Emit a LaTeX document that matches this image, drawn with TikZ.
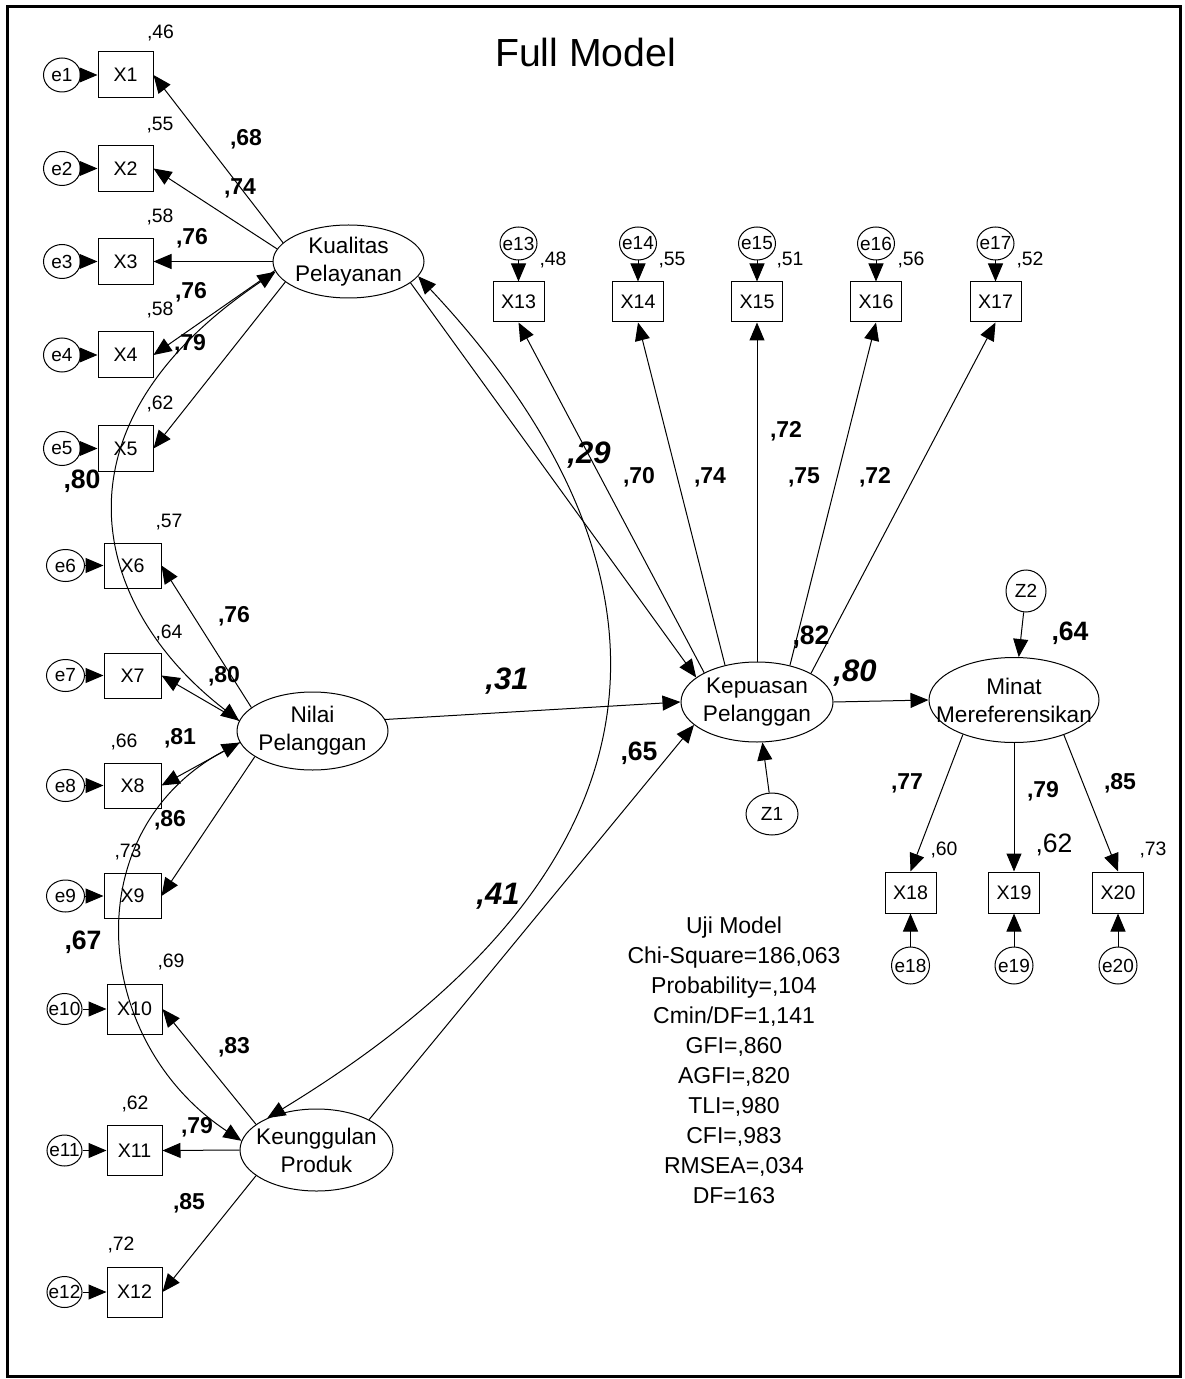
\documentclass[tikz,border=0pt]{standalone}
\usepackage{fontspec}
\setmainfont{Liberation Sans}
\usetikzlibrary{shapes.geometric,arrows.meta}
\newcommand\mkz[1]{\makebox[0pt]{#1}}
\begin{document}
\begin{tikzpicture}[x=0.5pt,y=-0.5pt,
  every node/.style={inner sep=0pt},
  lat/.style={ellipse,draw,line width=0.5pt,align=center,font=\fontsize{11.3}{14}\selectfont},
  obs/.style={rectangle,draw,line width=0.5pt,font=\fontsize{9.8}{11}\selectfont},
  err/.style={ellipse,draw,line width=0.5pt,font=\fontsize{9.5}{11}\selectfont},
  arr/.style={-{Triangle[length=9pt,width=7.5pt]},line width=0.5pt},
  darr/.style={{Triangle[length=9pt,width=7.5pt]}-{Triangle[length=9pt,width=7.5pt]},line width=0.5pt},
  sm/.style={font=\fontsize{9.7}{11}\selectfont},
  bl/.style={font=\fontsize{11.5}{13}\selectfont\bfseries},
  bc/.style={font=\fontsize{13.3}{15}\selectfont\bfseries},
  bi/.style={font=\fontsize{15.5}{17}\selectfont\bfseries\itshape},
]
\useasboundingbox (0,0) rectangle (1184,1379);
\draw[line width=1.5pt] (7.5,7) rectangle (1180.5,1376.5);

\node[font=\fontsize{19.6}{22}\selectfont,anchor=base] (title) at (585.5,67) {Full Model};

% latent variables
\node[lat,minimum width=75.5pt,minimum height=36.5pt] (KP) at (348.5,261.5) {\mkz{Kualitas}\\\mkz{Pelayanan}};
\node[lat,minimum width=75.5pt,minimum height=39pt] (NP) at (312.5,731) {\mkz{Nilai}\\\mkz{Pelanggan}};
\node[lat,minimum width=76.5pt,minimum height=41pt] (KU) at (316.5,1150) {\mkz{Keunggulan}\\\mkz{Produk}};
\node[lat,minimum width=76pt,minimum height=40pt] (KE) at (757,702) {\mkz{Kepuasan}\\\mkz{Pelanggan}};
\node[lat,minimum width=85pt,minimum height=42.5pt] (MM) at (1014,700) {\mkz{Minat}\\\mkz{Mereferensikan}};
\node[err,minimum width=26pt,minimum height=21pt] (Z1) at (772,814) {\mkz{Z1}};
\node[err,minimum width=20pt,minimum height=21pt] (Z2) at (1026,591) {\mkz{Z2}};

% left indicators
\foreach \i/\yy in {1/75,2/168.5,3/261.5,4/355,5/448.5} {
  \node[obs,minimum width=27.5pt,minimum height=23pt] (X\i) at (125.5,\yy) {X\i};
  \node[err,minimum width=18.5pt,minimum height=17pt] (e\i) at (62,\yy) {\mkz{e\i}};
  \draw[arr] (e\i) -- (X\i);
}
\foreach \i/\yy in {6/565.5,7/675.5,8/785.5,9/896} {
  \node[obs,minimum width=28.5pt,minimum height=22.5pt] (X\i) at (132.5,\yy) {X\i};
  \node[err,minimum width=19pt,minimum height=16pt] (e\i) at (65.5,\yy) {\mkz{e\i}};
  \draw[arr] (e\i) -- (X\i);
}
\foreach \i/\yy in {10/1009,11/1150.5,12/1292} {
  \node[obs,minimum width=27.5pt,minimum height=25pt] (X\i) at (134.5,\yy) {X\i};
  \node[err,minimum width=17.5pt,minimum height=15.5pt] (e\i) at (64.5,\yy) {\mkz{e\i}};
  \draw[arr] (e\i) -- (X\i);
}
% top indicators
\foreach \i/\xx in {13/518.5,14/638,15/757,16/876,17/995.5} {
  \node[obs,minimum width=25.5pt,minimum height=20pt] (X\i) at (\xx,302) {X\i};
  \node[err,minimum width=18.5pt,minimum height=16.5pt] (e\i) at (\xx,243.5) {\mkz{e\i}};
  \draw[arr] (e\i) -- (X\i);
}
% bottom right indicators
\foreach \i/\xx in {18/910.5,19/1014,20/1118} {
  \node[obs,minimum width=25.5pt,minimum height=20.5pt] (X\i) at (\xx,892.5) {X\i};
  \node[err,minimum width=19pt,minimum height=18.5pt] (e\i) at (\xx,965.5) {\mkz{e\i}};
  \draw[arr] (e\i) -- (X\i);
}

% loadings
\draw[arr] (KP.164) -- (X1.east);
\draw[arr] (KP.170) -- (X2.east);
\draw[arr] (KP.180) -- (X3.east);
\draw[arr] (KP.187) -- (X4.east);
\draw[arr] (KP.198) -- (X5.east);
\draw[arr] (NP.159) -- (X6.east);
\draw[arr] (NP.172) -- (X7.east);
\draw[arr] (NP.189) -- (X8.east);
\draw[arr] (NP.204) -- (X9.east);
\draw[arr] (KU.157) -- (X10.east);
\draw[arr] (KU.180) -- (X11.east);
\draw[arr] (KU.203) -- (X12.east);
\draw[arr] (KE.151) -- (X13.south);
\draw[arr] (KE.131) -- (X14.south);
\draw[arr] (KE.90) -- (X15.south);
\draw[arr] (KE.48) -- (X16.south);
\draw[arr] (KE.28) -- (X17.south);
\draw[arr] (MM.214) -- (X18.north);
\draw[arr] (MM.270) -- (X19.north);
\draw[arr] (MM.325) -- (X20.north);

% structural paths
\draw[arr] (KP.341) -- (KE.158);
\draw[arr] (NP.9) -- (KE.180);
\draw[arr] (KU.30) -- (KE.200);
\draw[arr] (KE.0) -- (MM.180);
\draw[arr] (Z1) -- (KE);
\draw[arr] (Z2) -- (MM);

% correlations
\draw[darr] (KP.188) .. controls (40,430) and (95,610) .. (NP.172);
\draw[darr] (NP.189) .. controls (76,830) and (90,1040) .. (KU.173);
\draw[darr] (KP.348) .. controls (600,470) and (790,800) .. (KU.147);

% squared multiple correlations
\node[sm] (r1) at (160.5,32.5) {,46};
\node[sm] (r2) at (160,125) {,55};
\node[sm] (r3) at (160,217) {,58};
\node[sm] (r4) at (160,310) {,58};
\node[sm] (r5) at (160,404) {,62};
\node[sm] (r6) at (169,522) {,57};
\node[sm] (r7) at (169,633) {,64};
\node[sm] (r8) at (124,742) {,66};
\node[sm] (r9) at (128,852) {,73};
\node[sm] (r10) at (171,962) {,69};
\node[sm] (r11) at (135,1104) {,62};
\node[sm] (r12) at (121,1245) {,72};
\node[sm] (r13) at (553,260) {,48};
\node[sm] (r14) at (672,260) {,55};
\node[sm] (r15) at (790,260) {,51};
\node[sm] (r16) at (911,260) {,56};
\node[sm] (r17) at (1030,260) {,52};
\node[sm] (r18) at (944,850) {,60};
\node[font=\fontsize{13.3}{15}\selectfont] (r19) at (1054,845) {,62};
\node[sm] (r20) at (1153,850) {,73};

% loading labels
\node[bl] (l1) at (246,139) {,68};
\node[bl] (l2) at (240,188) {,74};
\node[bl] (l3) at (192,238) {,76};
\node[bl] (l4) at (191,292) {,76};
\node[bl] (l5) at (190,344) {,79};
\node[bl] (l6) at (234,616) {,76};
\node[bl] (l7) at (224,676) {,80};
\node[bl] (l8) at (180,738) {,81};
\node[bl] (l9) at (170,820) {,86};
\node[bl] (l10) at (234,1047) {,83};
\node[bl] (l11) at (197,1127) {,79};
\node[bl] (l12) at (189,1203) {,85};
\node[bl] (l13) at (639,477) {,70};
\node[bl] (l14) at (710,477) {,74};
\node[bl] (l15) at (786,431) {,72};
\node[bl] (l16) at (804,477) {,75};
\node[bl] (l17) at (875,477) {,72};
\node[bl] (l18) at (907,783) {,77};
\node[bl] (l19) at (1043,791) {,79};
\node[bl] (l20) at (1120,783) {,85};
\node[bc] (r21) at (811,637) {,82};
\node[bc] (r22) at (1070,633) {,64};
\node[bc] (p4) at (639,753) {,65};
\node[bc] (c1) at (82,481) {,80};
\node[bc] (c2) at (83,942) {,67};
\node[bi] (p1) at (589,455) {,29};
\node[bi] (p2) at (507,681) {,31};
\node[bi] (c3) at (498,896) {,41};
\node[bi] (p5) at (855,673) {,80};

% fit statistics
\node[font=\fontsize{11.5}{15}\selectfont,align=center,anchor=north] (fit) at (734,916)
 {Uji Model\\Chi-Square=186,063\\Probability=,104\\Cmin/DF=1,141\\GFI=,860\\AGFI=,820\\TLI=,980\\CFI=,983\\RMSEA=,034\\DF=163};
\end{tikzpicture}
\end{document}
